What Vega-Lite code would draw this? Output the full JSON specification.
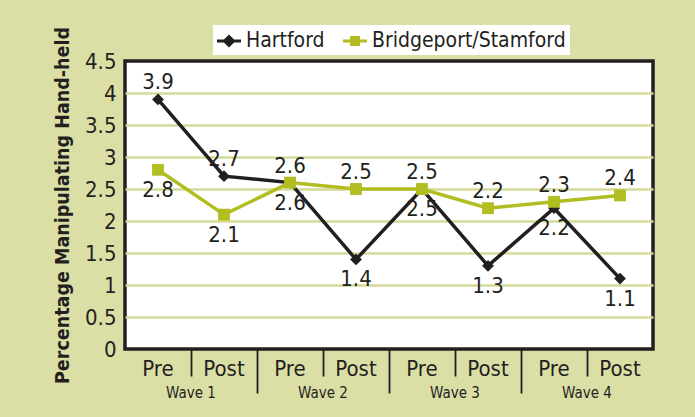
{
  "$schema": "https://vega.github.io/schema/vega-lite/v6.json",
  "width": 528,
  "height": 288,
  "autosize": {"type": "none"},
  "padding": {"left": 125, "top": 61, "right": 42, "bottom": 68},
  "background": "#dbdfa6",
  "config": {
    "font": "Liberation Sans Narrow, DejaVu Sans Condensed, sans-serif",
    "view": {"fill": "white", "stroke": "#231f20", "strokeWidth": 3.5},
    "axis": {
      "labelFont": "Liberation Sans Narrow, DejaVu Sans Condensed, sans-serif",
      "titleFont": "Liberation Sans Narrow, DejaVu Sans Condensed, sans-serif",
      "labelColor": "#231f20",
      "titleColor": "#231f20"
    },
    "legend": {
      "labelFont": "Liberation Sans Narrow, DejaVu Sans Condensed, sans-serif"
    }
  },
  "data": {
    "values": [
      {"key": "W1 Pre", "series": "Hartford", "value": 3.9},
      {"key": "W1 Post", "series": "Hartford", "value": 2.7},
      {"key": "W2 Pre", "series": "Hartford", "value": 2.6},
      {"key": "W2 Post", "series": "Hartford", "value": 1.4},
      {"key": "W3 Pre", "series": "Hartford", "value": 2.5},
      {"key": "W3 Post", "series": "Hartford", "value": 1.3},
      {"key": "W4 Pre", "series": "Hartford", "value": 2.2},
      {"key": "W4 Post", "series": "Hartford", "value": 1.1},
      {"key": "W1 Pre", "series": "Bridgeport/Stamford", "value": 2.8},
      {"key": "W1 Post", "series": "Bridgeport/Stamford", "value": 2.1},
      {"key": "W2 Pre", "series": "Bridgeport/Stamford", "value": 2.6},
      {"key": "W2 Post", "series": "Bridgeport/Stamford", "value": 2.5},
      {"key": "W3 Pre", "series": "Bridgeport/Stamford", "value": 2.5},
      {"key": "W3 Post", "series": "Bridgeport/Stamford", "value": 2.2},
      {"key": "W4 Pre", "series": "Bridgeport/Stamford", "value": 2.3},
      {"key": "W4 Post", "series": "Bridgeport/Stamford", "value": 2.4}
    ]
  },
  "encoding": {
    "y": {
      "field": "value",
      "type": "quantitative",
      "scale": {"domain": [0, 4.5], "nice": false, "zero": true},
      "axis": {
        "title": "Percentage Manipulating Hand-held",
        "titleFontSize": 19.5,
        "titleFontWeight": "bold",
        "titlePadding": 12,
        "values": [0, 0.5, 1, 1.5, 2, 2.5, 3, 3.5, 4, 4.5],
        "format": ".1~f",
        "labelFontSize": 22,
        "labelPadding": 9,
        "ticks": false,
        "tickSize": 0,
        "domain": false,
        "grid": true,
        "gridColor": "#d5da98",
        "gridWidth": 2.5,
        "gridOpacity": {"condition": {"test": "datum.value == 0 || datum.value == 4.5", "value": 0}, "value": 1},
        "labelFlush": false,
        "labelOverlap": false
      }
    }
  },
  "layer": [
    {
      "mark": {"type": "line", "strokeWidth": 3.5},
      "encoding": {
        "x": {
          "field": "key",
          "type": "ordinal",
          "scale": {"type": "band", "domain": ["W1 Pre", "W1 Post", "W2 Pre", "W2 Post", "W3 Pre", "W3 Post", "W4 Pre", "W4 Post"], "paddingInner": 0, "paddingOuter": 0},
          "axis": {
            "orient": "bottom",
            "title": null,
            "ticks": false,
            "tickSize": 0,
            "domain": false,
            "grid": false,
            "labelExpr": "split(datum.value, ' ')[1]",
            "labelFontSize": 22,
            "labelPadding": 9,
            "labelAngle": 0,
            "labelOverlap": false
          }
        },
        "color": {
          "field": "series",
          "type": "nominal",
          "scale": {"domain": ["Hartford", "Bridgeport/Stamford"], "range": ["#231f20", "#b2bd22"]},
          "legend": null
        }
      }
    },
    {
      "mark": {"type": "point", "filled": true, "opacity": 1, "size": 140},
      "encoding": {
        "x": {
          "field": "key",
          "type": "ordinal",
          "scale": {"type": "band", "domain": ["W1 Pre", "W1 Post", "W2 Pre", "W2 Post", "W3 Pre", "W3 Post", "W4 Pre", "W4 Post"], "paddingInner": 0, "paddingOuter": 0},
          "axis": {
            "orient": "bottom",
            "title": null,
            "values": ["W1 Post", "W2 Post", "W3 Post", "W4 Post"],
            "bandPosition": 0,
            "domain": false,
            "grid": false,
            "ticks": true,
            "tickSize": 27,
            "tickWidth": 1.8,
            "tickColor": "#231f20",
            "labelExpr": "'Wave ' + substring(datum.value, 1, 2)",
            "labelFontSize": 15,
            "labelPadding": 9,
            "labelOffset": -33,
            "labelAngle": 0,
            "labelAlign": "center",
            "labelOverlap": false,
            "labelFlush": false
          }
        },
        "color": {
          "field": "series",
          "type": "nominal",
          "scale": {"domain": ["Hartford", "Bridgeport/Stamford"], "range": ["#231f20", "#b2bd22"]},
          "legend": null
        },
        "shape": {
          "field": "series",
          "type": "nominal",
          "scale": {"domain": ["Hartford", "Bridgeport/Stamford"], "range": ["diamond", "square"]},
          "legend": null
        }
      }
    },
    {
      "transform": [
        {"window": [{"op": "row_number", "as": "rank"}], "groupby": ["key"], "sort": [{"field": "value", "order": "descending"}, {"field": "series", "order": "descending"}]},
        {"filter": "datum.rank == 1"}
      ],
      "mark": {"type": "text", "fontSize": 22, "color": "#231f20", "baseline": "alphabetic", "dy": -10, "font": "Liberation Sans Narrow, DejaVu Sans Condensed, sans-serif"},
      "encoding": {
        "x": {
          "field": "key",
          "type": "ordinal",
          "scale": {"type": "band", "domain": ["W1 Pre", "W1 Post", "W2 Pre", "W2 Post", "W3 Pre", "W3 Post", "W4 Pre", "W4 Post"], "paddingInner": 0, "paddingOuter": 0},
          "axis": {
            "orient": "bottom",
            "title": null,
            "values": ["W2 Pre", "W3 Pre", "W4 Pre"],
            "bandPosition": 0,
            "domain": false,
            "grid": false,
            "ticks": true,
            "tickSize": 44,
            "tickWidth": 1.8,
            "tickColor": "#231f20",
            "labels": false
          }
        },
        "text": {"field": "value", "type": "quantitative", "format": ".1f"}
      }
    },
    {
      "transform": [
        {"window": [{"op": "row_number", "as": "rank"}], "groupby": ["key"], "sort": [{"field": "value", "order": "descending"}, {"field": "series", "order": "descending"}]},
        {"filter": "datum.rank == 2"}
      ],
      "mark": {"type": "text", "fontSize": 22, "color": "#231f20", "baseline": "top", "dy": 10, "font": "Liberation Sans Narrow, DejaVu Sans Condensed, sans-serif"},
      "encoding": {
        "x": {
          "field": "key",
          "type": "ordinal",
          "scale": {"type": "band", "domain": ["W1 Pre", "W1 Post", "W2 Pre", "W2 Post", "W3 Pre", "W3 Post", "W4 Pre", "W4 Post"], "paddingInner": 0, "paddingOuter": 0},
          "axis": null
        },
        "text": {"field": "value", "type": "quantitative", "format": ".1f"}
      }
    },
    {
      "transform": [{"filter": "false"}],
      "mark": {"type": "point", "filled": true, "opacity": 1},
      "encoding": {
        "x": {
          "field": "key",
          "type": "ordinal",
          "scale": {"type": "band", "domain": ["W1 Pre", "W1 Post", "W2 Pre", "W2 Post", "W3 Pre", "W3 Post", "W4 Pre", "W4 Post"], "paddingInner": 0, "paddingOuter": 0},
          "axis": null
        },
        "color": {
          "field": "series",
          "type": "nominal",
          "scale": {"domain": ["Hartford", "Bridgeport/Stamford"], "range": ["#231f20", "#b2bd22"]},
          "legend": {
            "orient": "none",
            "legendX": 88,
            "legendY": -36,
            "direction": "horizontal",
            "title": null,
            "fillColor": "white",
            "padding": 4,
            "labelFontSize": 21,
            "labelColor": "#231f20",
            "labelLimit": 400,
            "symbolSize": 576,
            "symbolOpacity": 1,
            "labelOffset": 5,
            "columnPadding": 18,
            "symbolStrokeWidth": 0
          }
        },
        "shape": {
          "field": "series",
          "type": "nominal",
          "scale": {"domain": ["Hartford", "Bridgeport/Stamford"], "range": ["M-1,-0.13H1V0.13H-1Z M0,-0.55L0.55,0L0,0.55L-0.55,0Z", "M-1,-0.13H1V0.13H-1Z M-0.42,-0.42H0.42V0.42H-0.42Z"]},
          "legend": {
            "orient": "none",
            "legendX": 88,
            "legendY": -36,
            "direction": "horizontal",
            "title": null,
            "fillColor": "white",
            "padding": 4,
            "labelFontSize": 21,
            "labelColor": "#231f20",
            "labelLimit": 400,
            "symbolSize": 576,
            "symbolOpacity": 1,
            "labelOffset": 5,
            "columnPadding": 18,
            "symbolStrokeWidth": 0
          }
        }
      }
    }
  ],
  "resolve": {"axis": {"x": "independent"}, "scale": {"shape": "independent", "color": "independent"}}
}
